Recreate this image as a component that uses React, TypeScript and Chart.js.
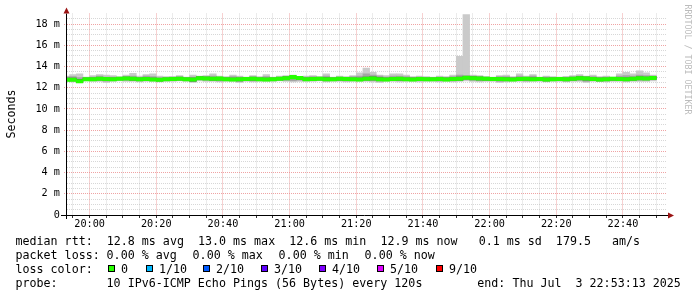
import React, { useEffect, useRef } from "react";
import { Chart, registerables } from "chart.js";

Chart.register(...registerables);

// ---- data (times are minutes after 19:00; one bin = 120 s) ----
const firstBin = "19:53";
const binStepMin = 2;
const windowStart = "19:53:13";
const windowMinutes = 180;

const xTickLabels = ["20:00", "20:20", "20:40", "21:00", "21:20", "21:40", "22:00", "22:20", "22:40"];
const yTickValues = [0, 2, 4, 6, 8, 10, 12, 14, 16, 18];
const yTickLabels = ["0", "2 m", "4 m", "6 m", "8 m", "10 m", "12 m", "14 m", "16 m", "18 m"];

// smoke: outer (all pings) range
const smokeLow = [
  12.60, 12.55, 12.50, 12.65, 12.60, 12.60, 12.50, 12.60, 12.65, 12.60,
  12.60, 12.55, 12.60, 12.60, 12.55, 12.60, 12.60, 12.65, 12.60, 12.50,
  12.65, 12.60, 12.60, 12.55, 12.60, 12.60, 12.50, 12.60, 12.55, 12.60,
  12.60, 12.60, 12.65, 12.60, 12.55, 12.60, 12.60, 12.60, 12.65, 12.55,
  12.60, 12.60, 12.55, 12.60, 12.60, 12.60, 12.55, 12.50, 12.60, 12.60,
  12.55, 12.60, 12.60, 12.55, 12.60, 12.60, 12.55, 12.60, 12.55, 12.60,
  12.65, 12.60, 12.55, 12.60, 12.60, 12.50, 12.55, 12.60, 12.60, 12.55,
  12.60, 12.60, 12.55, 12.60, 12.60, 12.55, 12.60, 12.60, 12.50, 12.60,
  12.60, 12.55, 12.60, 12.60, 12.55, 12.60, 12.60, 12.60, 12.65,
];
const smokeHigh = [
  13.10, 13.25, 13.30, 13.00, 13.15, 13.25, 13.20, 13.15, 13.05, 13.20,
  13.35, 13.10, 13.25, 13.30, 13.10, 13.05, 13.05, 13.15, 13.00, 13.20,
  13.10, 13.15, 13.30, 13.10, 13.05, 13.20, 13.10, 13.00, 13.15, 13.05,
  13.25, 13.00, 13.10, 13.15, 13.20, 13.05, 13.10, 13.15, 13.05, 13.30,
  13.00, 13.10, 13.05, 13.15, 13.40, 13.85, 13.45, 13.20, 13.15, 13.30,
  13.30, 13.20, 13.05, 13.10, 13.05, 13.00, 13.10, 13.05, 13.20, 14.95,
  18.90, 13.20, 13.15, 13.05, 13.00, 13.15, 13.20, 13.05, 13.30, 13.10,
  13.25, 13.00, 13.10, 13.05, 13.00, 13.05, 13.15, 13.25, 13.10, 13.20,
  13.05, 13.10, 13.00, 13.30, 13.45, 13.30, 13.60, 13.40, 13.20,
];
// smoke: middle pings
const midLow = [
  12.65, 12.62, 12.55, 12.70, 12.68, 12.70, 12.62, 12.68, 12.72, 12.70,
  12.68, 12.65, 12.70, 12.66, 12.62, 12.68, 12.70, 12.72, 12.68, 12.60,
  12.75, 12.70, 12.68, 12.65, 12.68, 12.66, 12.62, 12.70, 12.65, 12.68,
  12.66, 12.68, 12.72, 12.70, 12.66, 12.72, 12.68, 12.70, 12.72, 12.65,
  12.68, 12.70, 12.65, 12.68, 12.66, 12.70, 12.66, 12.62, 12.68, 12.70,
  12.66, 12.68, 12.67, 12.66, 12.68, 12.68, 12.64, 12.66, 12.64, 12.68,
  12.75, 12.70, 12.66, 12.68, 12.68, 12.60, 12.64, 12.66, 12.68, 12.64,
  12.66, 12.70, 12.64, 12.68, 12.68, 12.62, 12.68, 12.70, 12.60, 12.68,
  12.64, 12.64, 12.70, 12.68, 12.64, 12.70, 12.70, 12.70, 12.75,
];
const midHigh = [
  13.00, 13.05, 12.95, 12.95, 13.00, 13.10, 13.00, 13.00, 12.98, 13.05,
  13.10, 12.98, 13.10, 13.05, 12.95, 12.95, 13.00, 13.05, 12.95, 13.00,
  13.05, 13.05, 13.10, 13.00, 12.98, 13.05, 13.00, 12.95, 13.05, 12.98,
  13.05, 12.95, 13.00, 13.05, 13.10, 13.00, 13.00, 13.05, 13.00, 13.10,
  12.95, 13.00, 12.98, 13.05, 13.10, 13.30, 13.20, 13.10, 13.00, 13.10,
  13.10, 13.05, 12.98, 13.00, 12.98, 12.95, 13.00, 12.98, 13.05, 13.20,
  13.15, 13.10, 13.05, 13.00, 12.95, 13.05, 13.05, 12.98, 13.10, 13.00,
  13.10, 12.95, 13.00, 12.98, 12.95, 13.00, 13.05, 13.10, 13.05, 13.05,
  12.98, 13.00, 12.98, 13.10, 13.15, 13.10, 13.20, 13.15, 13.10,
];
// smoke: inner pings
const innerLow = [
  12.68, 12.66, 12.58, 12.72, 12.70, 12.74, 12.68, 12.70, 12.75, 12.76,
  12.72, 12.66, 12.72, 12.68, 12.64, 12.70, 12.72, 12.74, 12.70, 12.62,
  12.78, 12.75, 12.72, 12.74, 12.70, 12.68, 12.64, 12.72, 12.72, 12.70,
  12.68, 12.70, 12.74, 12.78, 12.86, 12.80, 12.70, 12.72, 12.74, 12.68,
  12.70, 12.72, 12.70, 12.70, 12.68, 12.74, 12.74, 12.66, 12.68, 12.72,
  12.72, 12.70, 12.68, 12.70, 12.70, 12.70, 12.70, 12.66, 12.70, 12.72,
  12.82, 12.78, 12.74, 12.72, 12.70, 12.66, 12.66, 12.66, 12.70, 12.72,
  12.66, 12.70, 12.65, 12.68, 12.70, 12.66, 12.72, 12.78, 12.72, 12.70,
  12.64, 12.68, 12.72, 12.70, 12.68, 12.72, 12.78, 12.76, 12.80,
];
const innerHigh = [
  12.90, 12.90, 12.80, 12.92, 12.92, 12.98, 12.95, 12.92, 12.96, 13.00,
  12.98, 12.92, 12.95, 12.90, 12.88, 12.92, 12.95, 12.98, 12.92, 12.90,
  13.02, 13.00, 12.98, 12.98, 12.92, 12.90, 12.92, 12.94, 12.98, 12.92,
  12.90, 12.92, 12.98, 13.02, 13.08, 13.00, 12.92, 12.94, 12.96, 12.95,
  12.92, 12.98, 12.94, 12.92, 12.92, 13.00, 13.02, 12.95, 12.90, 12.95,
  12.98, 12.92, 12.90, 12.94, 12.92, 12.92, 12.94, 12.90, 12.94, 13.00,
  13.08, 13.04, 13.00, 12.97, 12.94, 12.95, 12.93, 12.90, 12.95, 12.97,
  12.93, 12.94, 12.90, 12.92, 12.94, 12.92, 12.98, 13.03, 13.00, 12.95,
  12.90, 12.92, 12.97, 12.95, 12.93, 12.98, 13.02, 13.00, 13.03,
];
// median rtt (ms), 0 % loss everywhere
const medianRtt = [
  12.75, 12.75, 12.62, 12.80, 12.80, 12.85, 12.82, 12.80, 12.85, 12.88,
  12.85, 12.80, 12.82, 12.78, 12.75, 12.80, 12.82, 12.85, 12.80, 12.78,
  12.90, 12.88, 12.85, 12.86, 12.80, 12.78, 12.80, 12.82, 12.85, 12.80,
  12.78, 12.80, 12.85, 12.90, 13.00, 12.92, 12.80, 12.82, 12.84, 12.80,
  12.80, 12.85, 12.82, 12.80, 12.78, 12.85, 12.88, 12.80, 12.78, 12.82,
  12.85, 12.80, 12.78, 12.82, 12.80, 12.80, 12.82, 12.78, 12.82, 12.85,
  12.95, 12.90, 12.88, 12.85, 12.82, 12.82, 12.80, 12.78, 12.82, 12.85,
  12.80, 12.82, 12.78, 12.80, 12.82, 12.80, 12.85, 12.90, 12.88, 12.82,
  12.78, 12.80, 12.85, 12.82, 12.80, 12.85, 12.90, 12.88, 12.92,
];

const legendLine1 = "median rtt:  12.8 ms avg  13.0 ms max  12.6 ms min  12.9 ms now   0.1 ms sd  179.5   am/s";
const legendLossLabel = "packet loss:";
const legendLossParts = ["0.00 % avg", "0.00 % max", "0.00 % min", "0.00 % now"];
const lossColorLabel = "loss color:";
const lossColorNames = ["0", "1/10", "2/10", "3/10", "4/10", "5/10", "9/10"];
const lossColors = ["#26ff00", "#00b8ff", "#0059ff", "#5e00ff", "#7e00ff", "#dd00ff", "#ff0000"];
const probeLabel = "probe:";
const probeText = "10 IPv6-ICMP Echo Pings (56 Bytes) every 120s";
const endText = "end: Thu Jul  3 22:53:13 2025";
const yTitle = "Seconds";
const watermark = "RRDTOOL / TOBI OETIKER";

// ---- helpers ----
const hm = (s: string) => {
  const p = s.split(":").map(Number);
  return (p[0] - 19) * 60 + p[1] + (p[2] || 0) / 60;
};
const X_MIN = hm(windowStart);
const X_MAX = X_MIN + windowMinutes;
const binX = medianRtt.map((_, i) => hm(firstBin) + i * binStepMin);
const xMajor = xTickLabels.map(hm);
const MONO = '"DejaVu Sans Mono", monospace';
const MAJOR_GRID = "rgba(235,140,140,0.8)";
const MINOR_GRID = "rgba(175,175,175,0.5)";

const isXMajor = (v: number) => xMajor.some((m) => Math.abs(m - v) < 1e-6);
const isYMajor = (v: number) => yTickValues.some((m) => Math.abs(m - v) < 1e-6);

const decor = {
  id: "decor",
  afterDatasetsDraw(chart: any) {
    const { ctx, chartArea: a, scales } = chart;
    ctx.save();
    ctx.strokeStyle = "#333";
    ctx.lineWidth = 1;
    for (const t of scales.x.ticks) {
      const px = Math.round(scales.x.getPixelForValue(t.value) - 0.5) + 0.5;
      ctx.beginPath();
      ctx.moveTo(px, a.bottom);
      ctx.lineTo(px, a.bottom + 3);
      ctx.stroke();
    }
    ctx.strokeStyle = "#000";
    ctx.beginPath();
    ctx.moveTo(61, a.bottom + 0.5);
    ctx.lineTo(a.right + 1, a.bottom + 0.5);
    ctx.stroke();
    ctx.beginPath();
    ctx.moveTo(a.left - 0.5, a.bottom + 4);
    ctx.lineTo(a.left - 0.5, a.top);
    ctx.stroke();
    ctx.fillStyle = "#9b1414";
    ctx.beginPath();
    ctx.moveTo(a.left - 3.5, a.top);
    ctx.lineTo(a.left + 2.5, a.top);
    ctx.lineTo(a.left - 0.5, a.top - 6);
    ctx.closePath();
    ctx.fill();
    ctx.beginPath();
    ctx.moveTo(a.right + 1, a.bottom - 2.5);
    ctx.lineTo(a.right + 1, a.bottom + 3.5);
    ctx.lineTo(a.right + 7, a.bottom + 0.5);
    ctx.closePath();
    ctx.fill();
    ctx.restore();
  },
  afterDraw(chart: any) {
    const { ctx } = chart;
    ctx.save();
    ctx.fillStyle = "#000";
    ctx.textAlign = "left";
    ctx.textBaseline = "alphabetic";
    ctx.font = `11.66px ${MONO}`;
    const x0 = 15.5;
    const xv = 106.6;
    ctx.fillText(legendLine1, x0, 245.3);
    ctx.fillText(legendLossLabel, x0, 259.1);
    legendLossParts.forEach((s, i) => ctx.fillText(s, xv + i * 86, 259.1));
    ctx.fillText(lossColorLabel, x0, 272.9);
    const boxX = [108, 146, 203, 261, 319, 377, 436];
    lossColorNames.forEach((name, i) => {
      ctx.fillStyle = lossColors[i];
      ctx.fillRect(boxX[i], 265, 7, 7);
      ctx.strokeStyle = "#000";
      ctx.lineWidth = 1;
      ctx.strokeRect(boxX[i] + 0.5, 265.5, 6, 6);
      ctx.fillStyle = "#000";
      ctx.fillText(name, boxX[i] + 13, 272.9);
    });
    ctx.fillText(probeLabel, x0, 286.7);
    ctx.fillText(probeText, xv, 286.7);
    ctx.fillText(endText, 477.3, 286.7);

    ctx.save();
    ctx.translate(15, 114);
    ctx.rotate(-Math.PI / 2);
    ctx.textAlign = "center";
    ctx.fillText(yTitle, 0, 0);
    ctx.restore();

    ctx.save();
    ctx.translate(685, 4.5);
    ctx.rotate(Math.PI / 2);
    ctx.font = `8.3px ${MONO}`;
    ctx.fillStyle = "#bcbcbc";
    ctx.textAlign = "left";
    ctx.fillText(watermark, 0, 0);
    ctx.restore();
    ctx.restore();
  },
};

const barBase = {
  borderWidth: 0,
  barPercentage: 1,
  categoryPercentage: 1,
  grouped: false,
  clip: 0,
  xAxisID: "x",
  yAxisID: "y",
};

export default function App() {
  const ref = useRef<HTMLCanvasElement>(null);
  useEffect(() => {
    const range = (lo: number[], hi: number[]) => binX.map((x, i) => ({ x, y: [lo[i], hi[i]] }));
    const chart = new Chart(ref.current as HTMLCanvasElement, {
      type: "bar",
      data: {
        datasets: [
          {
            ...barBase,
            label: "median",
            order: 0,
            backgroundColor: lossColors[0],
            data: binX.map((x, i) => ({ x, y: [medianRtt[i] - 0.16, medianRtt[i] + 0.16] })),
          },
          { ...barBase, label: "inner", order: 1, backgroundColor: "#585858", data: range(innerLow, innerHigh) },
          { ...barBase, label: "mid", order: 2, backgroundColor: "#a4a4a4", data: range(midLow, midHigh) },
          { ...barBase, label: "outer", order: 3, backgroundColor: "#cacaca", data: range(smokeLow, smokeHigh) },
        ] as any,
      },
      options: {
        responsive: false,
        animation: false,
        devicePixelRatio: 1,
        events: [],
        layout: { padding: { left: 0, right: 30, top: 13.5, bottom: 0 } },
        plugins: { legend: { display: false }, tooltip: { enabled: false }, title: { display: false } },
        scales: {
          x: {
            type: "linear",
            position: "bottom",
            min: X_MIN,
            max: X_MAX,
            offset: false,
            grid: {
              offset: false,
              drawTicks: false,
              lineWidth: 1,
              color: (c: any) => (c.tick && isXMajor(c.tick.value) ? MAJOR_GRID : MINOR_GRID),
            },
            border: { display: false, dash: [1, 1] },
            ticks: {
              padding: 3,
              autoSkip: false,
              maxRotation: 0,
              minRotation: 0,
              color: "#000",
              font: { family: MONO, size: 10.2 },
              callback: (v: any) => {
                const i = xMajor.findIndex((m) => Math.abs(m - Number(v)) < 1e-6);
                return i >= 0 ? xTickLabels[i] : "";
              },
            },
            afterBuildTicks: (s: any) => {
              const t = [];
              for (let v = Math.ceil(X_MIN / 5) * 5; v <= X_MAX; v += 5) t.push({ value: v });
              s.ticks = t;
            },
            afterFit: (s: any) => {
              s.height = 82;
            },
          },
          y: {
            type: "linear",
            position: "left",
            min: 0,
            max: 19,
            grid: {
              drawTicks: true,
              tickLength: 3,
              lineWidth: 1,
              color: (c: any) => (c.tick && isYMajor(c.tick.value) ? MAJOR_GRID : MINOR_GRID),
              tickColor: (c: any) => (c.tick && isYMajor(c.tick.value) ? MAJOR_GRID : "rgba(0,0,0,0)"),
              tickBorderDash: [1, 1],
            },
            border: { display: false, dash: [1, 1] },
            ticks: {
              padding: 4,
              autoSkip: false,
              color: "#000",
              font: { family: MONO, size: 10.2 },
              callback: (v: any) => {
                const i = yTickValues.findIndex((m) => Math.abs(m - Number(v)) < 1e-6);
                return i >= 0 ? yTickLabels[i] : "";
              },
            },
            afterBuildTicks: (s: any) => {
              const t = [];
              for (let k = 0; k * 0.5 < 19; k++) t.push({ value: k * 0.5 });
              s.ticks = t;
            },
            afterFit: (s: any) => {
              s.width = 67;
            },
          },
        } as any,
      },
      plugins: [decor],
    } as any);
    return () => chart.destroy();
  }, []);

  return (
    <div style={{ position: "fixed", left: 0, top: 0, width: 697, height: 297, background: "#fff" }}>
      <canvas ref={ref} width={697} height={297} style={{ display: "block", width: 697, height: 297 }} />
    </div>
  );
}
